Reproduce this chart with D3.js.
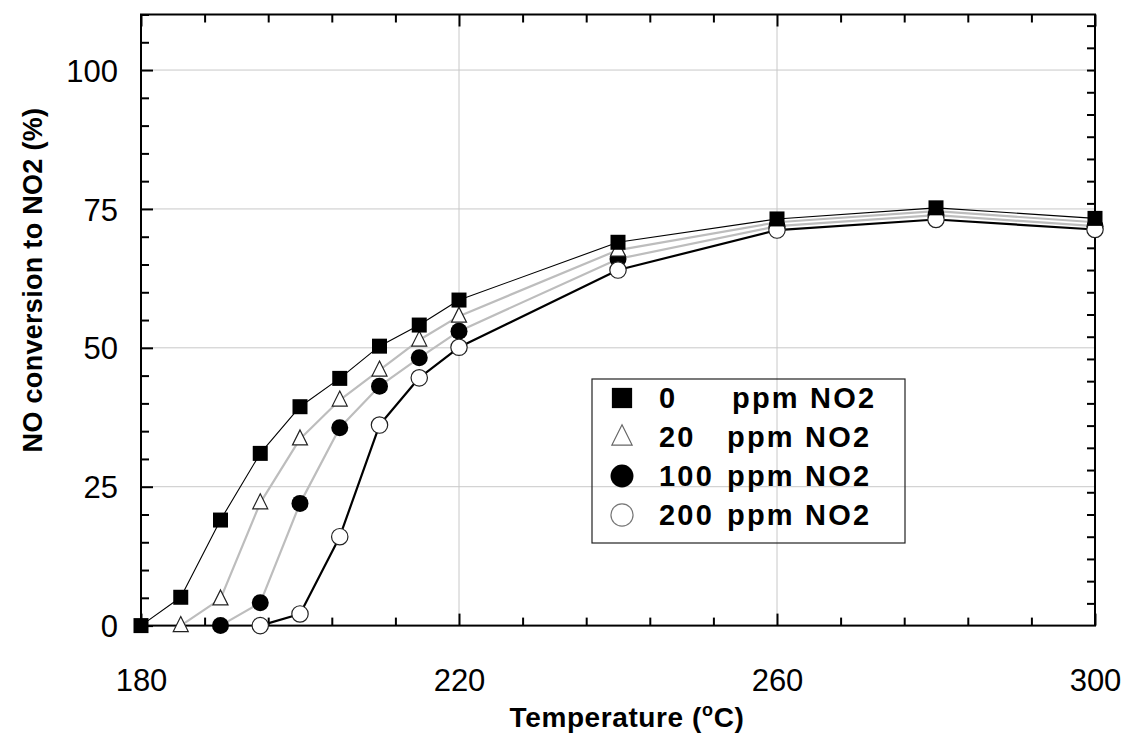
<!DOCTYPE html>
<html>
<head>
<meta charset="utf-8">
<script src="https://cdn.jsdelivr.net/npm/d3@7"></script>
<style>
  html, body { margin: 0; padding: 0; background: #fff; }
  svg { display: block; font-family: Arial, "Liberation Sans", sans-serif; }
</style>
</head>
<body>
<svg id="chart" width="1125" height="734"></svg>
<script>
// NO -> NO2 conversion vs temperature for four NO2 feed levels
const temps0   = [180, 185, 190, 195, 200, 205, 210, 215, 220, 240, 260, 280, 300];
const conv0    = [0, 5.1, 19, 31, 39.4, 44.5, 50.3, 54.1, 58.6, 69, 73.2, 75.2, 73.3];
const temps20  = [185, 190, 195, 200, 205, 210, 215, 220, 240, 260, 280, 300];
const conv20   = [0, 4.8, 22.1, 33.6, 40.6, 46, 51.4, 55.7, 67.6, 72.6, 74.6, 72.6];
const temps100 = [190, 195, 200, 205, 210, 215, 220, 240, 260, 280, 300];
const conv100  = [0, 4.1, 22, 35.6, 43.1, 48.2, 53, 66, 71.9, 73.9, 71.9];
const temps200 = [195, 200, 205, 210, 215, 220, 240, 260, 280, 300];
const conv200  = [0, 2.1, 16, 36.1, 44.6, 50.1, 64, 71.2, 73.1, 71.3];

const seriesNames = ["0", "20", "100", "200"];
const unitLabel = "ppm NO2";

const xTicks = [180, 220, 260, 300];
const yTicks = [0, 25, 50, 75, 100];

const series = [
  { name: "0",   t: temps0,   v: conv0,   marker: "square",   lineColor: "#000",    lineWidth: 1.1 },
  { name: "20",  t: temps20,  v: conv20,  marker: "triangle", lineColor: "#bdbdbd", lineWidth: 2.2 },
  { name: "100", t: temps100, v: conv100, marker: "dot",      lineColor: "#bdbdbd", lineWidth: 2.2 },
  { name: "200", t: temps200, v: conv200, marker: "ring",     lineColor: "#000",    lineWidth: 2.2 }
];

const svg = d3.select("#chart");
const L = 141, R = 1095, T = 14.5, B = 625.6;

const x = d3.scaleLinear().domain([180, 300]).range([L, R]);
const y = d3.scaleLinear().domain([0, 110]).range([B, T]);

// grid
const grid = svg.append("g").attr("stroke", "#c8c8c8").attr("stroke-width", 1);
grid.selectAll("line.gx").data(xTicks.filter(d => d > 180 && d < 300)).join("line")
  .attr("x1", d => x(d)).attr("x2", d => x(d)).attr("y1", T).attr("y2", B);
grid.selectAll("line.gy").data(yTicks.filter(d => d > 0)).join("line")
  .attr("y1", d => y(d)).attr("y2", d => y(d)).attr("x1", L).attr("x2", R);

// inward ticks on all four sides
const minorX = d3.range(180, 300.01, 8).filter(d => !xTicks.includes(d));
const minorY = d3.range(0, 110.01, 5).filter(d => !yTicks.includes(d));
const minorYR = d3.range(4, 110, 4);

function tickAxis(axisFn, scale, values, size, transform) {
  const a = axisFn(scale).tickValues(values).tickSize(size).tickFormat("");
  const g = svg.append("g").attr("transform", transform).call(a);
  g.select(".domain").remove();
  g.selectAll(".tick line").attr("stroke", "#000").attr("stroke-width", 2);
  return g;
}
tickAxis(d3.axisBottom, x, xTicks, -12, `translate(0,${B})`);
tickAxis(d3.axisBottom, x, minorX, -8, `translate(0,${B})`);
tickAxis(d3.axisTop, x, xTicks, -12, `translate(0,${T})`);
tickAxis(d3.axisTop, x, minorX, -8, `translate(0,${T})`);
tickAxis(d3.axisLeft, y, yTicks, -12, `translate(${L},0)`);
tickAxis(d3.axisLeft, y, minorY, -8, `translate(${L},0)`);
tickAxis(d3.axisRight, y, minorYR, -8, `translate(${R},0)`);

// tick labels
const xl = d3.axisBottom(x).tickValues(xTicks).tickSize(0).tickPadding(0);
const gxl = svg.append("g").attr("transform", `translate(0,${B})`).call(xl);
gxl.select(".domain").remove();
gxl.selectAll("text").attr("font-size", 31).attr("font-family", "Arial, 'Liberation Sans', sans-serif")
  .attr("fill", "#000").attr("dy", null).attr("y", 65);

const yl = d3.axisLeft(y).tickValues(yTicks).tickSize(0).tickPadding(0);
const gyl = svg.append("g").attr("transform", `translate(${L - 23},0)`).call(yl);
gyl.select(".domain").remove();
gyl.selectAll("text").attr("font-size", 31).attr("font-family", "Arial, 'Liberation Sans', sans-serif")
  .attr("fill", "#000").attr("dy", "0.36em");

// frame
svg.append("rect").attr("x", L).attr("y", T).attr("width", R - L).attr("height", B - T)
  .attr("fill", "none").attr("stroke", "#000").attr("stroke-width", 2);

// axis titles
const xt = svg.append("text").attr("x", 627).attr("y", 727).attr("text-anchor", "middle")
  .attr("font-size", 28).attr("font-weight", "bold").attr("letter-spacing", 0.6);
xt.append("tspan").text("Temperature (");
xt.append("tspan").text("o").attr("font-size", 18).attr("dy", -11);
xt.append("tspan").text("C)").attr("dy", 11);

svg.append("text").attr("transform", "translate(42,280) rotate(-90)").attr("text-anchor", "middle")
  .attr("font-size", 27).attr("font-weight", "bold").attr("letter-spacing", 0.3)
  .text("NO conversion to NO2 (%)");

// marker shapes
function triPath(w, h) {
  return `M0,${-h * 0.6}L${w / 2},${h * 0.4}L${-w / 2},${h * 0.4}Z`;
}
function drawMarker(g, kind, scaleK) {
  const k = scaleK || 1;
  if (kind === "square") {
    g.append("path").attr("d", d3.symbol(d3.symbolSquare, 225 * k * k)()).attr("fill", "#000");
  } else if (kind === "triangle") {
    g.append("path").attr("d", triPath(15 * k, 15 * k)).attr("fill", "#fff")
      .attr("stroke", k > 1 ? "#666" : "#222").attr("stroke-width", 1.2);
  } else if (kind === "dot") {
    g.append("circle").attr("r", 8.5 * k).attr("fill", "#000");
  } else {
    g.append("circle").attr("r", 8.2 * k).attr("fill", "#fff")
      .attr("stroke", k > 1 ? "#777" : "#222").attr("stroke-width", 1.2);
  }
}

// lines
const line = d3.line().x(d => x(d[0])).y(d => y(d[1]));
series.forEach(s => {
  const pts = s.t.map((t, i) => [t, s.v[i]]);
  svg.append("path").datum(pts).attr("d", line).attr("fill", "none")
    .attr("stroke", s.lineColor).attr("stroke-width", s.lineWidth).attr("stroke-linejoin", "round");
});

// markers, drawn in stacking order
[series[2], series[1], series[3], series[0]].forEach(s => {
  const g = svg.append("g");
  s.t.forEach((t, i) => {
    const m = g.append("g").attr("transform", `translate(${x(t)},${y(s.v[i])})`);
    drawMarker(m, s.marker, 1);
  });
});

// legend
const lg = svg.append("g");
lg.append("rect").attr("x", 592).attr("y", 379).attr("width", 313).attr("height", 164)
  .attr("fill", "none").attr("stroke", "#222").attr("stroke-width", 1.2);
series.forEach((s, i) => {
  const base = 408 + i * 39;
  const m = lg.append("g").attr("transform", `translate(622,${base - 10})`);
  drawMarker(m, s.marker, 1.35);
  lg.append("text").attr("x", 659).attr("y", base).attr("font-size", 29).attr("font-weight", "bold")
    .attr("letter-spacing", 2.2).text(seriesNames[i]);
  lg.append("text").attr("x", i === 0 ? 732 : 727).attr("y", base).attr("font-size", 29).attr("font-weight", "bold")
    .attr("letter-spacing", 2.2).text(unitLabel);
});
</script>
</body>
</html>
